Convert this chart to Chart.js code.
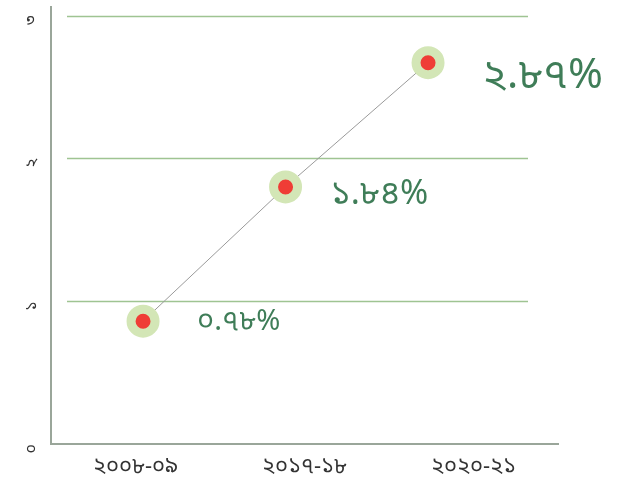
<!DOCTYPE html>
<html>
<head>
<meta charset="utf-8">
<script src="https://cdn.jsdelivr.net/npm/chart.js@4.4.0/dist/chart.umd.min.js"></script>
<style>
  html, body { margin: 0; padding: 0; background: #ffffff; }
  #wrap { width: 619px; height: 497px; }
</style>
</head>
<body>
<div id="wrap"><canvas id="chart" width="619" height="497"></canvas></div>
<script>
const years = ["২০০৮-০৯", "২০১৭-১৮", "২০২০-২১"];
const rates = [0.86, 1.80, 2.67];
const rateLabels = ["০.৭৮%", "১.৮৪%", "২.৮৭%"];
const yTickLabels = ["০", "১", "২", "৩"];

const bnFont = "'Noto Sans Bengali', 'Noto Sans', 'Lohit Bengali', sans-serif";
const labelSizes = [29, 34, 42];
const labelOffsets = [[54, 3], [45, 11], [54, 17]];

// short horizontal grid lines + value labels next to the points
const extras = {
    id: 'extras',
    beforeDatasetsDraw(chart) {
        const { ctx, chartArea, scales } = chart;
        ctx.save();
        ctx.strokeStyle = '#9fc492';
        ctx.lineWidth = 1.5;
        scales.y.ticks.forEach(t => {
            if (t.value === 0) return;
            const py = Math.round(scales.y.getPixelForValue(t.value)) + 0.5;
            ctx.beginPath();
            ctx.moveTo(chartArea.left + 16, py);
            ctx.lineTo(chartArea.right - 30, py);
            ctx.stroke();
        });
        ctx.restore();
    },
    afterDatasetsDraw(chart) {
        const { ctx } = chart;
        const meta = chart.getDatasetMeta(0);
        ctx.save();
        ctx.fillStyle = '#3f7d58';
        ctx.textBaseline = 'middle';
        ctx.textAlign = 'left';
        meta.data.forEach((pt, i) => {
            ctx.font = labelSizes[i] + 'px ' + bnFont;
            ctx.fillText(rateLabels[i], pt.x + labelOffsets[i][0], pt.y + labelOffsets[i][1]);
        });
        ctx.restore();
    }
};

new Chart(document.getElementById('chart'), {
    type: 'line',
    data: {
        labels: years,
        datasets: [{
            data: rates.map((v, i) => ({ x: i, y: v })),
            xAxisID: 'xp',
            borderColor: '#9a9a9a',
            borderWidth: 1,
            pointRadius: 12,
            pointBorderWidth: 9,
            pointBackgroundColor: '#ef3d36',
            pointBorderColor: '#d3e6b6',
            tension: 0
        }]
    },
    options: {
        responsive: false,
        animation: false,
        layout: { autoPadding: false, padding: { top: 7, right: 61, left: 0, bottom: 0 } },
        plugins: { legend: { display: false }, tooltip: { enabled: false } },
        scales: {
            x: {
                type: 'category',
                offset: true,
                grid: { display: false, drawTicks: false },
                border: { display: true, color: '#9aa69a', width: 2 },
                ticks: {
                    color: '#333',
                    padding: 12,
                    font: { family: bnFont, size: 22 }
                },
                afterFit: s => { s.height = 53; s.paddingLeft = 0; s.paddingRight = 0; }
            },
            xp: {
                type: 'linear',
                display: false,
                min: -0.646,
                max: 2.912
            },
            y: {
                min: 0,
                max: 3.06,
                grid: { display: false, drawTicks: false },
                border: { display: true, color: '#9aa69a', width: 2 },
                afterBuildTicks: s => { s.ticks = yTickLabels.map((_, i) => ({ value: i })); },
                ticks: {
                    minRotation: 90,
                    maxRotation: 90,
                    padding: 18,
                    color: '#333',
                    font: { family: bnFont, size: 16 },
                    callback: v => yTickLabels[v]
                },
                afterFit: s => { s.width = 51; s.paddingTop = 0; s.paddingBottom = 0; }
            }
        }
    },
    plugins: [extras]
});
</script>
</body>
</html>
